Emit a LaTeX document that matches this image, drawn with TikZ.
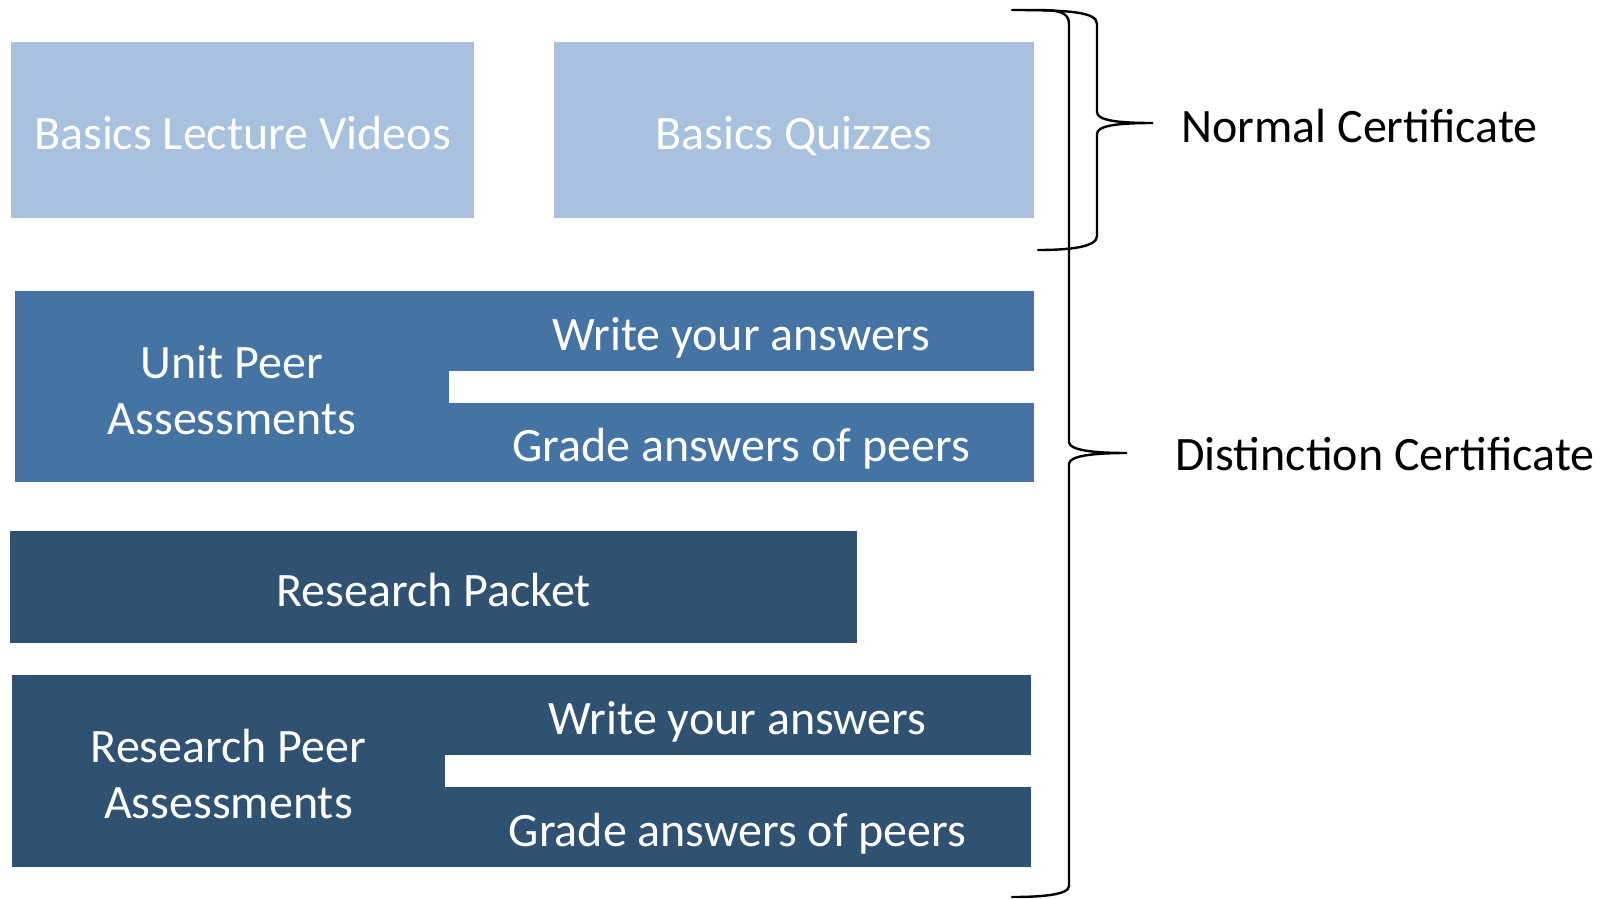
\documentclass[tikz,border=0pt]{standalone}
\usepackage{fontspec}
\setmainfont{Carlito}
\usepackage{tikz}
\definecolor{basicblue}{HTML}{A7C1DF}
\definecolor{unitblue}{HTML}{4573A3}
\definecolor{researchblue}{HTML}{2F5172}
\newcommand{\toppad}{\rule{0pt}{40pt}}
\tikzset{
  part/.style={inner sep=0pt, text=white, align=center,
    font=\fontsize{48}{56}\selectfont},
  oneline/.style={part, text height=42pt, text depth=4pt},
  certlabel/.style={inner sep=0pt, anchor=west,
    font=\fontsize{48}{56}\selectfont},
  bracestroke/.style={line width=2.4pt, line cap=round}
}
\begin{document}
\begin{tikzpicture}[x=1pt,y=-1pt]
         \useasboundingbox (0,0) rectangle (1608,898);
         % basics
         \node[oneline,fill=basicblue,minimum width=463,minimum height=176](videos) at (242.5,130) {Basics Lecture Videos};
         \node[oneline,fill=basicblue,minimum width=480,minimum height=176](quizzes) at (794,130) {Basics Quizzes};

         % unit peer assessments
         \node[part,fill=unitblue,minimum width=434,minimum height=191](unit) at (232,386.5) {\toppad Unit Peer\\Assessments};
         \node[oneline,fill=unitblue,minimum width=586,minimum height=80](unitwrite) at (741,331) {Write your answers};
         \node[oneline,fill=unitblue,minimum width=586,minimum height=79](unitgrade) at (741,442.5) {Grade answers of peers};

         \node[oneline,fill=researchblue,minimum width=847,minimum height=112](packet) at (433.5,587) {Research Packet};

         % research peer assessments
         \node[part,fill=researchblue,minimum width=433,minimum height=192](research) at (228.5,771) {\toppad Research Peer\\Assessments};
         \node[oneline,fill=researchblue,minimum width=587,minimum height=80](reswrite) at (737.5,715) {Write your answers};
         \node[oneline,fill=researchblue,minimum width=587,minimum height=80](resgrade) at (737.5,827) {Grade answers of peers};

         % braces
         \coordinate (normaltip) at (1153,123);
         \coordinate (distincttip) at (1127,453);
         \draw[bracestroke] (1012,10) .. controls (1070,10) and (1097,12) .. (1097,24) -- (1097,112)
             .. controls (1097,120) and (1115,123) .. (normaltip)
             .. controls (1115,123) and (1097,126) .. (1097,134) -- (1097,236)
             .. controls (1097,247) and (1070,250) .. (1038,250);
         \draw[bracestroke] (1038,10) .. controls (1058,10) and (1069,12) .. (1069,24) -- (1069,442)
             .. controls (1069,450) and (1092,453) .. (distincttip)
             .. controls (1092,453) and (1069,456) .. (1069,464) -- (1069,886)
             .. controls (1069,895) and (1040,897) .. (1012,897);
         \node[certlabel](normal) at ([xshift=28,yshift=-3]normaltip) {Normal Certificate};
         \node[certlabel](distinction) at ([xshift=48,yshift=-1]distincttip) {Distinction Certificate};
		\end{tikzpicture}
\end{document}
